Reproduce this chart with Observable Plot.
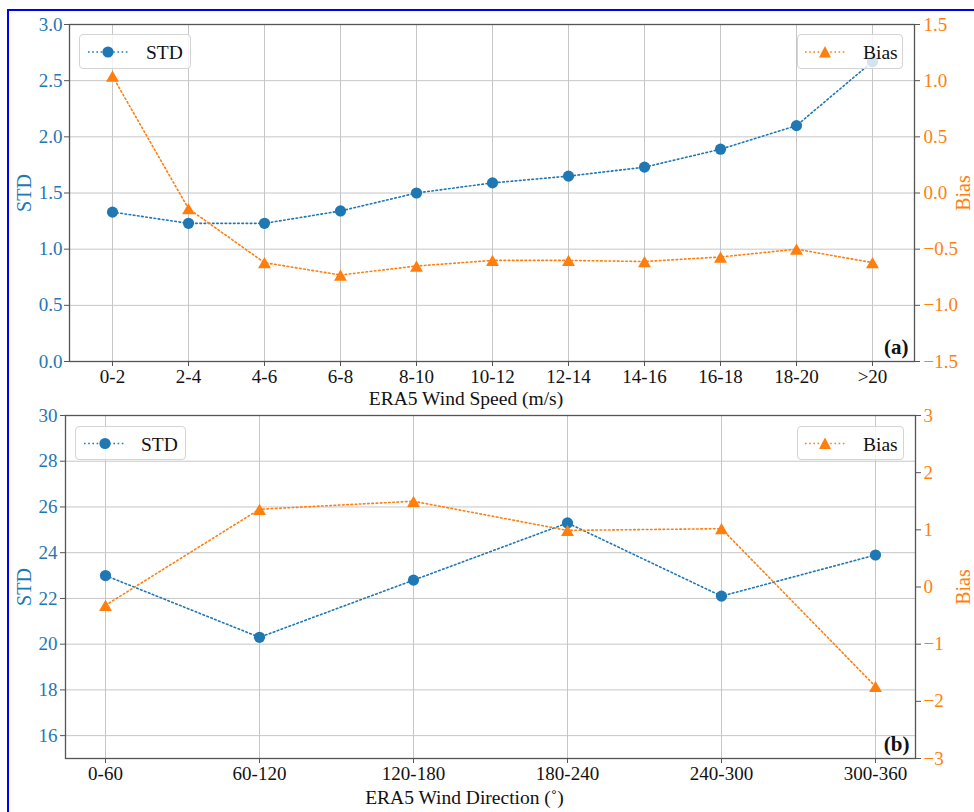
<!DOCTYPE html>
<html>
<head>
<meta charset="utf-8">
<script src="https://cdn.jsdelivr.net/npm/d3@7"></script>
<script src="https://cdn.jsdelivr.net/npm/@observablehq/plot@0.6"></script>
<style>
  html, body { margin: 0; padding: 0; background: #fff; }
  #wrap { position: relative; width: 974px; height: 812px; overflow: hidden; font-family: "Liberation Serif", "Times New Roman", serif; }
  #frameline { position: absolute; left: 7px; top: 9px; width: 1000px; height: 900px; border-left: 2px solid #0000f0; border-top: 2px solid #0000f0; }
  .panel { position: absolute; left: 0; }
  .legend { position: absolute; box-sizing: border-box; border: 1px solid #d4d4d4; border-radius: 4px; background: rgba(255,255,255,0.8); }
  .legend svg { position: absolute; left: 0; top: 0; }
  .legend span { position: absolute; font-size: 19.5px; color: #111; line-height: 1; }
</style>
</head>
<body>
<div id="wrap"><div id="frameline"></div></div>
<script>
// ---- data ----
const speedCats = ["0-2", "2-4", "4-6", "6-8", "8-10", "10-12", "12-14", "14-16", "16-18", "18-20", ">20"];
const speedStd  = [1.33, 1.23, 1.23, 1.34, 1.50, 1.59, 1.65, 1.73, 1.89, 2.10, 2.67];
const speedBias = [1.04, -0.14, -0.62, -0.73, -0.65, -0.60, -0.60, -0.61, -0.57, -0.50, -0.62];
const speedStdTicks  = [0, 0.5, 1.0, 1.5, 2.0, 2.5, 3.0];
const speedBiasTicks = [-1.5, -1.0, -0.5, 0, 0.5, 1.0, 1.5];

const dirCats = ["0-60", "60-120", "120-180", "180-240", "240-300", "300-360"];
const dirStd  = [23.0, 20.3, 22.8, 25.3, 22.1, 23.9];
const dirBias = [-0.32, 1.36, 1.50, 0.99, 1.02, -1.74];
const dirStdTicks  = [16, 18, 20, 22, 24, 26, 28, 30];
const dirBiasTicks = [-3, -2, -1, 0, 1, 2, 3];

const blue = "#1f77b4", orange = "#ff7f0e";
const minus = s => s.replace("-", "\u2212");

function panel(o) {
  const [s0, s1] = o.stdDomain, [b0, b1] = o.biasDomain;
  const toY = b => s0 + (b - b0) / (b1 - b0) * (s1 - s0);
  const fromY = y => b0 + (y - s0) / (s1 - s0) * (b1 - b0);
  const data = o.cats.map((c, i) => ({cat: c, std: o.std[i], biasY: toY(o.bias[i])}));
  return Plot.plot({
    width: 974, height: o.height,
    marginTop: o.mt, marginBottom: o.mb, marginLeft: o.ml, marginRight: o.mr,
    style: {fontFamily: "'Liberation Serif', 'Times New Roman', serif", fontSize: "19px", background: "transparent", overflow: "visible"},
    x: {type: "point", domain: o.cats, padding: o.padding},
    y: {domain: o.stdDomain},
    marks: [
      Plot.gridX(o.cats, {stroke: "#c6c6c6", strokeOpacity: 1, strokeWidth: 1}),
      Plot.gridY(o.stdTicks, {stroke: "#c6c6c6", strokeOpacity: 1, strokeWidth: 1}),
      Plot.line(data, {x: "cat", y: "std", stroke: blue, strokeWidth: 1.6, strokeDasharray: "1.6,2.6"}),
      Plot.dot(data, {x: "cat", y: "std", r: 5.6, fill: blue, stroke: "none"}),
      Plot.line(data, {x: "cat", y: "biasY", stroke: orange, strokeWidth: 1.6, strokeDasharray: "1.6,2.6"}),
      Plot.dot(data, {x: "cat", y: "biasY", symbol: "triangle", r: 4.8, dy: 1.9, fill: orange, stroke: "none"}),
      Plot.frame({stroke: "#555", strokeWidth: 1.3}),
      Plot.axisX(o.cats, {tickSize: 5, tickPadding: 3, stroke: "#555", fill: "#111", label: null}),
      Plot.axisY(o.stdTicks, {anchor: "left", tickSize: 5, tickPadding: o.lp, stroke: "#555", fill: blue, tickFormat: o.stdFmt, label: null}),
      Plot.axisY(o.biasTicks.map(toY), {anchor: "right", tickSize: 5, tickPadding: o.rp, stroke: "#555", fill: orange,
        tickFormat: v => minus(o.biasFmt(fromY(v))), label: null}),
      Plot.text([o.xlabel], {frameAnchor: "bottom", dx: -26, dy: o.xlDy, lineAnchor: "middle", fill: "#111", fontSize: 19.5}),
      Plot.text(["STD"], {frameAnchor: "left", dx: o.stdDx, rotate: -90, lineAnchor: "middle", textAnchor: "middle", fill: blue, fontSize: 20}),
      Plot.text(["Bias"], {frameAnchor: "right", dx: o.biasDx, rotate: -90, lineAnchor: "middle", textAnchor: "middle", fill: orange, fontSize: 20}),
      Plot.text([o.tag], {frameAnchor: "bottom-right", dx: -6, dy: -8, lineAnchor: "bottom", textAnchor: "end", fill: "#111", fontSize: 21, fontWeight: "bold"})
    ]
  });
}

const wrap = document.getElementById("wrap");

const speedChart = panel({
  cats: speedCats, std: speedStd, bias: speedBias,
  stdDomain: [0, 3], biasDomain: [-1.5, 1.5],
  stdTicks: speedStdTicks, biasTicks: speedBiasTicks,
  stdFmt: d => d.toFixed(1), biasFmt: b => (Math.round(b * 10) / 10).toFixed(1),
  padding: 0.5, height: 405, mt: 24, mb: 44, ml: 69, mr: 60, lp: 2, rp: 4,
  xlabel: "ERA5 Wind Speed (m/s)", xlDy: 37, stdDx: -45, biasDx: 49, tag: "(a)"
});
const dirChart = panel({
  cats: dirCats, std: dirStd, bias: dirBias,
  stdDomain: [15, 30], biasDomain: [-3, 3],
  stdTicks: dirStdTicks, biasTicks: dirBiasTicks,
  stdFmt: d => String(d), biasFmt: b => String(Math.round(b)),
  padding: 0.25, height: 407, mt: 10, mb: 54, ml: 65, mr: 59, lp: 3, rp: 3,
  xlabel: "ERA5 Wind Direction (\u02da)", xlDy: 39, stdDx: -41, biasDx: 48, tag: "(b)"
});

const d1 = document.createElement("div"); d1.className = "panel"; d1.style.top = "0px"; d1.appendChild(speedChart);
const d2 = document.createElement("div"); d2.className = "panel"; d2.style.top = "405px"; d2.appendChild(dirChart);
wrap.appendChild(d1); wrap.appendChild(d2);

// ---- legends ----
function legend(left, topPx, w, h, color, symbol, label, lx0, lx1, mx, tx) {
  const el = document.createElement("div");
  el.className = "legend";
  Object.assign(el.style, {left: left + "px", top: topPx + "px", width: w + "px", height: h + "px"});
  const cy = h / 2 - 0.5;
  const marker = symbol === "circle"
    ? `<circle cx="${mx}" cy="${cy}" r="5.6" fill="${color}"/>`
    : `<path d="M${mx},${cy - 6} L${mx + 6},${cy + 5.5} L${mx - 6},${cy + 5.5} Z" fill="${color}"/>`;
  el.innerHTML = `<svg width="${w}" height="${h}"><line x1="${lx0}" x2="${lx1}" y1="${cy}" y2="${cy}" stroke="${color}" stroke-width="1.6" stroke-dasharray="1.6,2.6"/>${marker}</svg><span style="left:${tx}px; top:${cy - 9}px">${label}</span>`;
  wrap.appendChild(el);
}
legend(79, 34, 112, 35, blue, "circle", "STD", 8, 49, 28, 66);
legend(797, 34, 106, 35, orange, "triangle", "Bias", 7, 48, 27, 65);
legend(75, 426, 111, 34, blue, "circle", "STD", 8, 49, 29, 65);
legend(797, 426, 107, 34, orange, "triangle", "Bias", 7, 48, 27, 65);
</script>
</body>
</html>
